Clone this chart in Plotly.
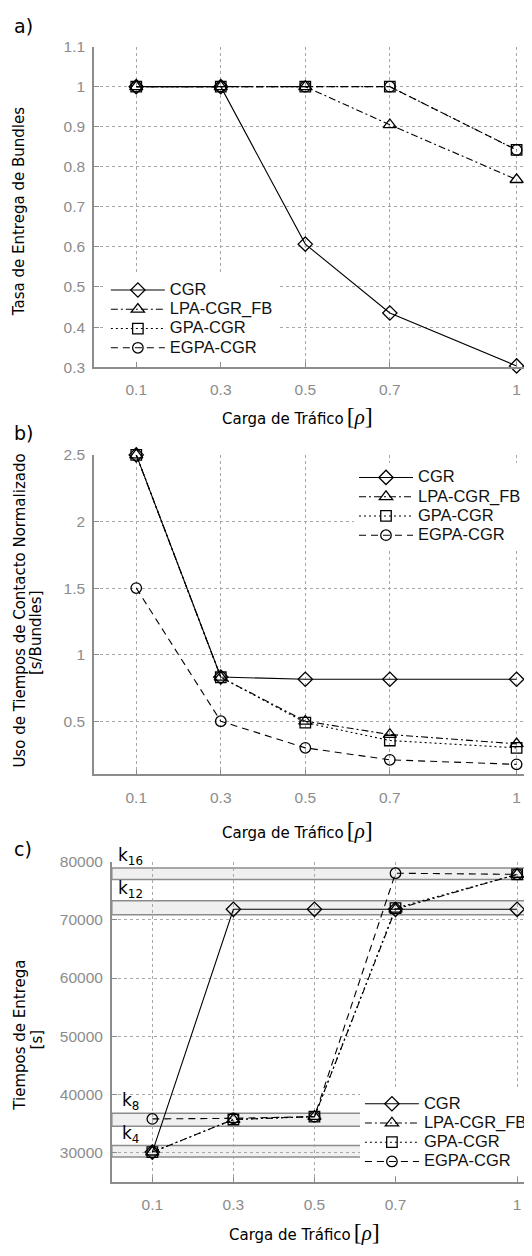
import plotly.graph_objects as go

# ---------------- data ----------------
load = [0.1, 0.3, 0.5, 0.7, 1.0]
x_tick_text = ["0.1", "0.3", "0.5", "0.7", "1"]
series_names = ["CGR", "LPA-CGR_FB", "GPA-CGR", "EGPA-CGR"]

# a) Tasa de entrega
a_cgr = [1.0, 1.0, 0.607, 0.435, 0.303]
a_lpa = [1.0, 1.0, 1.0, 0.905, 0.768]
a_gpa = [1.0, 1.0, 1.0, 1.0, 0.842]
a_egpa = [1.0, 1.0, 1.0, 1.0, 0.842]

# b) Uso de tiempos de contacto normalizado
b_cgr = [2.5, 0.832, 0.815, 0.815, 0.815]
b_lpa = [2.5, 0.83, 0.50, 0.40, 0.33]
b_gpa = [2.5, 0.83, 0.49, 0.355, 0.30]
b_egpa = [1.5, 0.50, 0.30, 0.21, 0.176]

# c) Tiempos de entrega
c_cgr = [30100, 71800, 71800, 71800, 71800]
c_lpa = [30100, 35700, 36200, 71800, 77800]
c_gpa = [30100, 35700, 36200, 72000, 77800]
c_egpa = [35800, 35900, 36200, 78000, 77800]

# bands in c)
band_names = ["4", "8", "12", "16"]
band_low = [29270, 34530, 70860, 76900]
band_high = [31240, 36780, 73280, 78900]
band_xend = [0.62, 0.62, 1.1, 1.1]

# ---------------- styles ----------------
OFF = 8                      # default page body margin
W, H = 532 - OFF, 1256 - 2 * OFF
line_dash = ["solid", "7px,3px,2px,3px", "2px,3px", "7px,5px"]
symbols = ["diamond-open", "triangle-up-open", "square-open", "circle-open"]
msizes = [11, 11.5, 10.5, 10.5]
GRAY = "#8c8c8c"
GRID = "#a8a8a8"

def px_x(p):
    return (p - OFF) / W

def px_y(p):
    return 1 - (p - OFF) / H

fig = go.Figure()

panels = [
    ([a_cgr, a_lpa, a_gpa, a_egpa], "x", "y", "legend"),
    ([b_cgr, b_lpa, b_gpa, b_egpa], "x2", "y2", "legend2"),
    ([c_cgr, c_lpa, c_gpa, c_egpa], "x3", "y3", "legend3"),
]
for vals, xa, ya, lg in panels:
    for i, v in enumerate(vals):
        fig.add_trace(go.Scatter(
            x=load, y=v, xaxis=xa, yaxis=ya, legend=lg,
            name='<span style="font-size:16.5px">' + series_names[i] + "</span>",
            mode="lines+markers",
            line=dict(color="black", width=1.1, dash=line_dash[i]),
            marker=dict(symbol=symbols[i], size=msizes[i], color="black",
                        line=dict(color="black", width=1.3)),
            cliponaxis=False,
        ))

# bands
for nm, lo, hi, xe in zip(band_names, band_low, band_high, band_xend):
    fig.add_shape(type="rect", xref="x3", yref="y3", x0=0, x1=xe, y0=lo, y1=hi,
                  fillcolor="#f0f0f0", line=dict(color=GRAY, width=1.5), layer="below")

common_ax = dict(showline=True, linecolor=GRAY, linewidth=1.5, mirror=False,
                 ticks="inside", ticklen=5, tickcolor=GRAY, tickwidth=1,
                 showgrid=True, gridcolor=GRID, griddash="dot", gridwidth=1,
                 zeroline=False,
                 tickfont=dict(family="Liberation Sans", size=15.5, color=GRAY))

xa_x0 = 95
xc_x0 = 113
fig.update_layout(
    width=W, height=H, margin=dict(l=0, r=0, t=0, b=0),
    paper_bgcolor="white", plot_bgcolor="white", hovermode=False,
    modebar=dict(bgcolor="rgba(0,0,0,0)", color="rgba(0,0,0,0)",
                 activecolor="rgba(0,0,0,0)"),
    xaxis=dict(domain=[px_x(xa_x0), 1], range=[0, (532 - xa_x0) / 427.5],
               tickvals=load, ticktext=x_tick_text, anchor="y",
               ticklabelstandoff=8, **common_ax),
    yaxis=dict(domain=[px_y(363), px_y(38)], range=[0.3, 1.1],
               tickvals=[0.3, 0.4, 0.5, 0.6, 0.7, 0.8, 0.9, 1.0, 1.1],
               ticktext=["0.3", "0.4", "0.5", "0.6", "0.7", "0.8", "0.9", "1", "1.1"],
               anchor="x", ticklabelstandoff=4, **common_ax),
    xaxis2=dict(domain=[px_x(xa_x0), 1], range=[0, (532 - xa_x0) / 427.5],
                tickvals=load, ticktext=x_tick_text, anchor="y2",
                ticklabelstandoff=8, **common_ax),
    yaxis2=dict(domain=[px_y(776), px_y(452)], range=[0.1, 2.5],
                tickvals=[0.5, 1, 1.5, 2, 2.5],
                ticktext=["0.5", "1", "1.5", "2", "2.5"],
                anchor="x2", ticklabelstandoff=4, **common_ax),
    xaxis3=dict(domain=[px_x(xc_x0), 1], range=[0, (532 - xc_x0) / 410],
                tickvals=load, ticktext=x_tick_text, anchor="y3",
                ticklabelstandoff=8, **common_ax),
    yaxis3=dict(domain=[px_y(1189), px_y(864.3)], range=[25000, 80000],
                tickvals=[30000, 40000, 50000, 60000, 70000, 80000],
                ticktext=["30000", "40000", "50000", "60000", "70000", "80000"],
                anchor="x3", ticklabelstandoff=4, **common_ax),
)

leg_common = dict(bgcolor="white", borderwidth=0, itemwidth=54,
                  font=dict(family="Liberation Sans", size=12.5, color="#111"),
                  xanchor="left", yanchor="top", tracegroupgap=0)
fig.update_layout(
    legend=dict(x=px_x(107), y=px_y(270), **leg_common),
    legend2=dict(x=px_x(358), y=px_y(460), **leg_common),
    legend3=dict(x=px_x(364), y=px_y(1095), **leg_common),
)

# text annotations
def ann(text, x, y, size=15, family="DejaVu Sans", angle=0, xanchor="center",
        yanchor="middle", color="black"):
    fig.add_annotation(text=text, x=px_x(x), y=px_y(y), xref="paper", yref="paper",
                       showarrow=False, textangle=angle, xanchor=xanchor,
                       yanchor=yanchor, font=dict(family=family, size=size, color=color))

for lab, yy in [("a)", 17), ("b)", 430), ("c)", 852)]:
    ann(lab, 12, yy, size=19, xanchor="left")

xt = ("Carga de Tráfico\u2009"
      "<span style=\"font-family:Liberation Serif;font-size:24px\">[</span>"
      "<span style=\"font-family:Liberation Serif;font-style:italic;font-size:21px\">ρ</span>"
      "<span style=\"font-family:Liberation Serif;font-size:24px\">]</span>")
ann(xt, 222, 413, xanchor="left")
ann(xt, 222, 832, xanchor="left")
ann(xt, 230, 1240, xanchor="left")

ann("Tasa de Entrega de Bundles", 19, 205, angle=-90)
ann("Uso de Tiempos de Contacto Normalizado", 20, 610, angle=-90)
ann("[s/Bundles]", 37, 632, angle=-90)
ann("Tiempos de Entrega", 20, 1040, angle=-90)
ann("[s]", 37, 1045, angle=-90)

for nm, xx, yy in [("16", 117, 859), ("12", 117, 893), ("8", 121, 1108), ("4", 121, 1141)]:
    ann("k<sub>" + nm + "</sub>", xx, yy, size=17, xanchor="left")

fig.write_html("out.html")
